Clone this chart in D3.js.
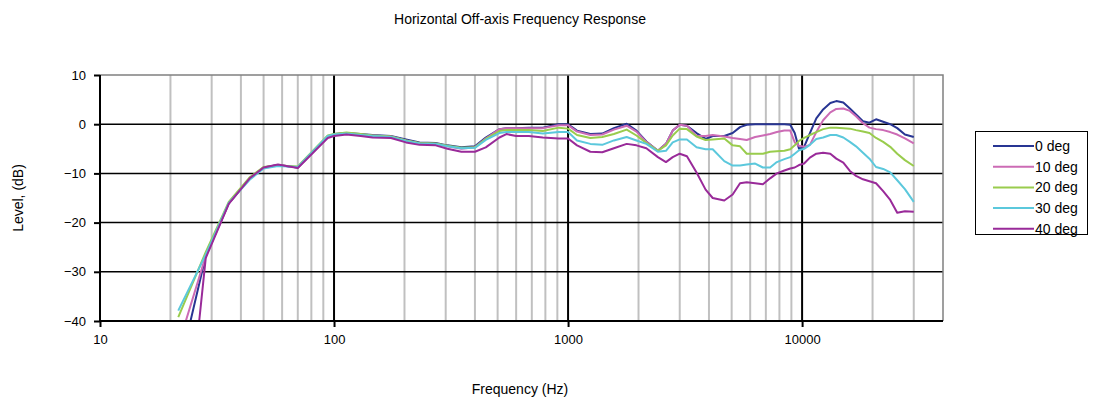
<!doctype html>
<html>
<head>
<meta charset="utf-8">
<title>Horizontal Off-axis Frequency Response</title>
<script src="https://d3js.org/d3.v7.min.js"></script>
<style>
  body { margin: 0; background: #fff; }
  svg text { font-family: "Liberation Sans", Arial, sans-serif; fill: #000; }
</style>
</head>
<body>
<div id="chart"></div>
<script>
// frequency grid (Hz) shared by all curves
var freqs = [21.6, 28.3, 35.5, 43.6, 50, 57.6, 70, 94, 100, 113, 130, 146, 175, 203, 232, 272, 305, 350, 400, 445,
  509, 545, 600, 680, 780, 912, 1000, 1092, 1245, 1400, 1570, 1780, 1960, 2160, 2420, 2620, 2800, 3000, 3220,
  3540, 3870, 4150, 4650, 5050, 5430, 5800, 6300, 6800, 7300, 7800, 8400, 8900, 9300, 9700, 10200, 10800,
  11500, 12300, 13200, 14000, 15000, 16000, 17000, 18200, 19400, 20700, 22200, 23800, 25500, 27500, 30000];

var deg0 = [-50.6, -26.8, -16.1, -11.0, -8.8, -8.3, -8.8, -2.6, -2.0, -1.8, -2.0, -2.2, -2.4, -3.1, -3.7, -3.8, -4.3, -4.7, -4.5, -2.7,
  -1.0, -0.8, -0.8, -0.7, -0.7, 0.0, 0.0, -1.3, -2.0, -1.9, -0.8, 0.1, -1.3, -3.5, -5.4, -4.0, -1.3, -0.1, -0.3,
  -1.8, -3.0, -2.4, -2.4, -1.8, -0.6, -0.1, 0.0, 0.0, 0.0, 0.0, 0.0, -0.1, -1.8, -5.0, -4.6, -1.8,
  1.2, 3.0, 4.3, 4.7, 4.4, 3.2, 2.0, 0.6, 0.3, 1.0, 0.5, 0.0, -0.8, -2.1, -2.6];

var deg10 = [-45.0, -26.8, -16.1, -11.0, -8.8, -8.3, -8.8, -2.6, -2.1, -1.8, -2.1, -2.3, -2.5, -3.3, -3.9, -4.0, -4.5, -5.0, -4.7, -2.9,
  -1.0, -0.8, -0.8, -0.8, -0.8, -0.2, -0.2, -1.5, -2.2, -2.1, -1.1, -0.3, -1.5, -3.6, -5.4, -4.0, -1.3, -0.1, -0.3,
  -2.4, -2.4, -2.2, -2.5, -2.8, -3.0, -3.2, -2.6, -2.3, -2.0, -1.6, -1.3, -1.3, -3.7, -4.4, -4.6, -4.2,
  -1.6, 0.8, 2.4, 3.1, 3.2, 2.7, 1.6, 0.2, -0.7, -1.0, -1.2, -1.6, -2.1, -2.9, -3.9];

var deg20 = [-39.2, -26.0, -15.8, -10.8, -8.7, -8.4, -8.6, -2.3, -2.0, -1.7, -2.0, -2.3, -2.5, -3.3, -3.8, -3.9, -4.4, -4.8, -4.7, -3.0,
  -1.4, -1.2, -1.2, -1.2, -1.4, -0.7, -0.9, -2.2, -2.8, -2.6, -2.0, -1.1, -2.3, -3.8, -5.4, -4.3, -2.3, -0.9, -1.0,
  -2.5, -3.2, -3.1, -2.9, -4.3, -4.5, -6.0, -6.0, -6.0, -5.6, -5.5, -5.4, -5.1, -4.3, -3.4, -2.8, -2.2,
  -1.6, -1.0, -0.7, -0.7, -0.8, -0.9, -1.2, -1.5, -1.8, -2.8, -3.6, -4.6, -6.0, -7.3, -8.5];

var deg30 = [-37.9, -26.5, -16.0, -11.3, -9.0, -8.5, -8.7, -2.4, -2.1, -1.9, -2.2, -2.4, -2.6, -3.4, -3.9, -4.0, -4.5, -4.9, -4.8, -3.2,
  -1.8, -1.6, -1.6, -1.6, -1.9, -1.6, -1.6, -3.3, -4.0, -4.2, -3.3, -2.6, -3.3, -4.0, -5.6, -5.4, -3.7, -3.1, -3.1,
  -4.7, -5.1, -5.1, -7.5, -8.4, -8.4, -8.2, -8.0, -8.8, -8.8, -7.7, -7.1, -6.7, -6.0, -5.3, -5.0, -4.2,
  -3.0, -2.7, -2.2, -2.2, -2.7, -3.6, -4.5, -5.8, -7.0, -8.7, -9.1, -9.8, -11.4, -13.2, -15.8];

var deg40 = [-81.0, -27.2, -16.2, -11.0, -8.8, -8.2, -8.9, -2.8, -2.4, -2.1, -2.4, -2.7, -2.8, -3.7, -4.2, -4.3, -5.0, -5.6, -5.6, -4.7,
  -2.7, -2.0, -2.4, -2.4, -2.7, -2.9, -2.9, -4.3, -5.6, -5.7, -4.9, -4.0, -4.3, -4.9, -6.7, -7.7, -6.7, -6.0, -6.5,
  -9.8, -13.3, -15.0, -15.5, -14.3, -12.0, -11.8, -12.0, -12.2, -11.0, -10.0, -9.4, -9.0, -8.8, -8.3, -8.0, -6.8,
  -6.0, -5.8, -6.0, -7.0, -7.8, -9.5, -10.5, -11.2, -11.6, -12.0, -13.6, -15.4, -18.0, -17.7, -17.8];

var seriesNames = ["0 deg", "10 deg", "20 deg", "30 deg", "40 deg"];
var seriesColors = ["#283593", "#cc6bb5", "#99cc4d", "#5bc8dc", "#992a99"];
var seriesValues = [deg0, deg10, deg20, deg30, deg40];

var yTicks = [10, 0, -10, -20, -30, -40];
var xMajor = [10, 100, 1000, 10000];

var W = 1097, H = 404;
var plot = {left: 100, right: 943, top: 75, bottom: 321};

var svg = d3.select("#chart").append("svg")
  .attr("width", W)
  .attr("height", H);

var x = d3.scaleLog()
  .domain([10, 40000])
  .range([plot.left, plot.right]);

var y = d3.scaleLinear()
  .domain([-40, 10])
  .range([plot.bottom, plot.top]);

// minor vertical gridlines
var minor = [];
[10, 100, 1000, 10000].forEach(function(d) {
  for (var k = 2; k <= 9; k++) {
    if (d * k < 40000) minor.push(d * k);
  }
});
svg.append("g").selectAll("line")
  .data(minor)
  .enter().append("line")
    .attr("x1", function(d) { return x(d); })
    .attr("x2", function(d) { return x(d); })
    .attr("y1", plot.top)
    .attr("y2", plot.bottom)
    .attr("stroke", "#c0c0c0")
    .attr("stroke-width", 2);

// horizontal gridlines
svg.append("g").selectAll("line")
  .data(yTicks.filter(function(d) { return d > -40 && d < 10; }))
  .enter().append("line")
    .attr("x1", plot.left)
    .attr("x2", plot.right)
    .attr("y1", function(d) { return y(d); })
    .attr("y2", function(d) { return y(d); })
    .attr("stroke", "#000")
    .attr("stroke-width", 1.5);

// major vertical gridlines
svg.append("g").selectAll("line")
  .data(xMajor.slice(1))
  .enter().append("line")
    .attr("x1", function(d) { return x(d); })
    .attr("x2", function(d) { return x(d); })
    .attr("y1", plot.top)
    .attr("y2", plot.bottom)
    .attr("stroke", "#000")
    .attr("stroke-width", 2);

// plot area border (top / right)
svg.append("path")
  .attr("d", "M" + plot.left + "," + plot.top + "H" + plot.right + "V" + plot.bottom)
  .attr("fill", "none")
  .attr("stroke", "#808080")
  .attr("stroke-width", 1.5);

// curves
svg.append("clipPath").attr("id", "clip")
  .append("rect")
    .attr("x", plot.left).attr("y", plot.top)
    .attr("width", plot.right - plot.left)
    .attr("height", plot.bottom - plot.top);

var line = d3.line()
  .x(function(d, i) { return x(freqs[i]); })
  .y(function(d) { return y(d); });

svg.append("g").attr("clip-path", "url(#clip)")
  .selectAll("path")
  .data(seriesValues)
  .enter().append("path")
    .attr("d", line)
    .attr("fill", "none")
    .attr("stroke", function(d, i) { return seriesColors[i]; })
    .attr("stroke-width", 2)
    .attr("stroke-linejoin", "round");

// axes
var xAxis = d3.axisBottom(x)
  .tickValues(xMajor)
  .tickFormat(d3.format("d"))
  .tickSize(6)
  .tickPadding(8);
svg.append("g")
  .attr("transform", "translate(0," + plot.bottom + ")")
  .call(xAxis)
  .call(function(g) {
    g.select(".domain").attr("stroke-width", 2).attr("d", "M" + plot.left + ",0H" + plot.right);
    g.selectAll(".tick line").attr("stroke-width", 2);
    g.selectAll("text").style("font-size", "13px").attr("font-family", null);
  });

var yAxis = d3.axisLeft(y)
  .tickValues(yTicks)
  .tickSize(6)
  .tickPadding(8);
svg.append("g")
  .attr("transform", "translate(" + plot.left + ",0)")
  .call(yAxis)
  .call(function(g) {
    g.select(".domain").attr("stroke-width", 2).attr("d", "M0," + plot.top + "V" + plot.bottom);
    g.selectAll(".tick line").attr("stroke-width", 2);
    g.selectAll("text").style("font-size", "13px").attr("font-family", null);
  });

// titles
svg.append("text")
  .attr("x", 520).attr("y", 24)
  .attr("text-anchor", "middle")
  .style("font-size", "14px")
  .text("Horizontal Off-axis Frequency Response");

svg.append("text")
  .attr("x", 520).attr("y", 394)
  .attr("text-anchor", "middle")
  .style("font-size", "14px")
  .text("Frequency (Hz)");

svg.append("text")
  .attr("transform", "translate(23,198) rotate(-90)")
  .attr("text-anchor", "middle")
  .style("font-size", "14px")
  .text("Level, (dB)");

// legend
var legend = svg.append("g");
legend.append("rect")
  .attr("x", 975.5).attr("y", 131.5)
  .attr("width", 112).attr("height", 103)
  .attr("fill", "#fff")
  .attr("stroke", "#000")
  .attr("stroke-width", 1);

var items = legend.selectAll("g.item")
  .data(seriesNames)
  .enter().append("g")
    .attr("class", "item")
    .attr("transform", function(d, i) { return "translate(0," + (146 + i * 20.7) + ")"; });
items.append("line")
  .attr("x1", 993).attr("x2", 1034)
  .attr("stroke", function(d, i) { return seriesColors[i]; })
  .attr("stroke-width", 2);
items.append("text")
  .attr("x", 1035).attr("y", 5)
  .style("font-size", "14px")
  .text(function(d) { return d; });
</script>
</body>
</html>
